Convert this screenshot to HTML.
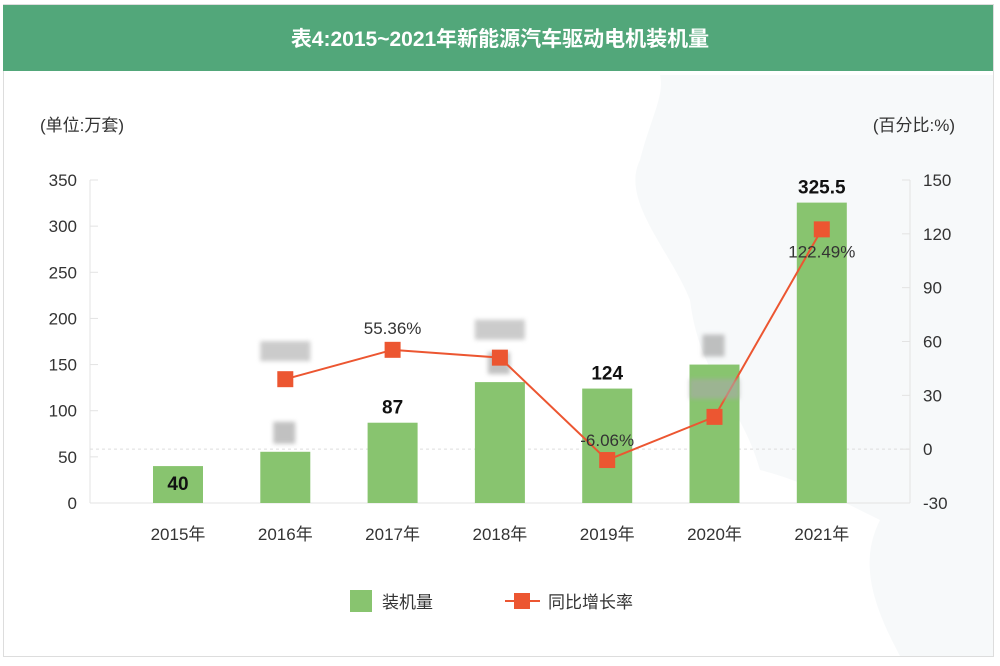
<!DOCTYPE html>
<html><head><meta charset="utf-8"><style>
html,body{margin:0;padding:0;background:#fff;}
body{width:1000px;height:661px;overflow:hidden;font-family:"Liberation Sans","Noto Sans CJK SC",sans-serif;}
</style></head><body>
<svg id="chart" width="1000" height="661" viewBox="0 0 1000 661" xmlns="http://www.w3.org/2000/svg" font-family="Liberation Sans, Noto Sans CJK SC, sans-serif">
<rect x="3.5" y="4.5" width="990" height="652" fill="#fff" stroke="#ddd"/>
<path d="M660 75 L993 75 L993 656 L900 656 C870 600 860 560 880 520 C840 500 800 480 760 470 C740 400 700 380 690 300 C670 250 620 200 640 160 C650 120 665 95 660 75 Z" fill="#f7f9fa"/>
<rect x="3" y="5" width="990" height="66" fill="#52a77a"/>
<text x="500" y="46" text-anchor="middle" fill="#fff" font-size="21" font-weight="bold">表4:2015~2021年新能源汽车驱动电机装机量</text>
<text x="40" y="131" font-size="17" fill="#333">(单位:万套)</text>
<text x="955" y="131" text-anchor="end" font-size="17" fill="#333">(百分比:%)</text>
<g id="axes"></g><g id="bars"></g><g id="line"></g>
<g>
<rect x="350" y="590" width="22" height="22" fill="#88c46f"/>
<text x="382" y="608" font-size="17" fill="#333">装机量</text>
<line x1="505" y1="601" x2="540" y2="601" stroke="#ec5631" stroke-width="2"/>
<rect x="514" y="593" width="16" height="16" fill="#ec5631"/>
<text x="548" y="608" font-size="17" fill="#333">同比增长率</text>
</g>
</svg>
<script>
const categories=["2015年","2016年","2017年","2018年","2019年","2020年","2021年"];
const installs=[40,55.5,87,131,124,150,325.5];
const growth=[39,55.36,51,-6.06,18,122.49];
const installLabels=["40","","87","","124","","325.5"];
const growthLabels=["","55.36%","","-6.06%","","122.49%"];
const leftTicks=[0,50,100,150,200,250,300,350];
const rightTicks=[-30,0,30,60,90,120,150];
const NS="http://www.w3.org/2000/svg";
const yTop=180,yBot=503,x0=90,x1=910,step=107.3,first=178;
const yL=v=>yBot-(v/350)*(yBot-yTop);
const yR=v=>yBot-((v+30)/180)*(yBot-yTop);
const xC=i=>first+i*step;
function mk(tag,attrs,parent,txt){const e=document.createElementNS(NS,tag);for(const k in attrs)e.setAttribute(k,attrs[k]);if(txt!==undefined)e.textContent=txt;parent.appendChild(e);return e;}
const ax=document.getElementById('axes'),bg=document.getElementById('bars'),lg=document.getElementById('line');
let e;
e=mk('line',{x1:x0,x2:x0,y1:yTop,y2:yBot,stroke:'#e3e3e3'},ax);


e=mk('line',{x1:x1,x2:x1,y1:yTop,y2:yBot,stroke:'#e3e3e3'},ax);


e=mk('line',{x1:x0,x2:x1,y1:yBot,y2:yBot,stroke:'#e3e3e3'},ax);


e=mk('line',{x1:x0,x2:x1,y1:yR(0),y2:yR(0),stroke:'#ddd','stroke-dasharray':'3,3'},ax);


leftTicks.forEach(t=>{e=mk('text',{x:77,y:yL(t)+6,'text-anchor':'end','font-size':17,fill:'#333'},ax,t);


mk('line',{x1:x0,x2:x0+8,y1:yL(t),y2:yL(t),stroke:'#e3e3e3'},ax);});
rightTicks.forEach(t=>{e=mk('text',{x:923,y:yR(t)+6,'font-size':17,fill:'#333'},ax,t);


mk('line',{x1:x1-8,x2:x1,y1:yR(t),y2:yR(t),stroke:'#e3e3e3'},ax);});
categories.forEach((c,i)=>{e=mk('text',{x:xC(i),y:540,'text-anchor':'middle','font-size':17,fill:'#333'},ax,c);

});
installs.forEach((v,i)=>{e=mk('rect',{x:xC(i)-25,y:yL(v),width:50,height:yBot-yL(v),fill:'#88c46f'},bg);


if(installLabels[i]){e=mk('text',{x:xC(i),y:i===0?yL(v)+24:yL(v)-9,'text-anchor':'middle','font-size':19,'font-weight':'bold',fill:'#111'},bg,installLabels[i]);

}
else{e=mk('rect',{x:xC(i)-12,y:yL(v)-30,width:22,height:22,fill:'#999',opacity:0.6,filter:'blur(2px)'},bg);

}});
const pts=growth.map((g,i)=>[xC(i+1),yR(g)]);
e=mk('polyline',{points:pts.map(p=>p.join(',')).join(' '),fill:'none',stroke:'#ec5631','stroke-width':2},lg);


pts.forEach((p,i)=>{e=mk('rect',{x:p[0]-8,y:p[1]-8,width:16,height:16,fill:'#ec5631'},lg);


if(growthLabels[i]){e=mk('text',{x:p[0],y:p[1]+(i===3?-14:(i===5?28:-16)),'text-anchor':'middle','font-size':17,fill:'#333'},lg,growthLabels[i]);

}
else{e=mk('rect',{x:p[0]-25,y:p[1]-38,width:50,height:20,fill:'#aaa',opacity:0.6,filter:'blur(2px)'},lg);

}});
</script>
</body></html>
